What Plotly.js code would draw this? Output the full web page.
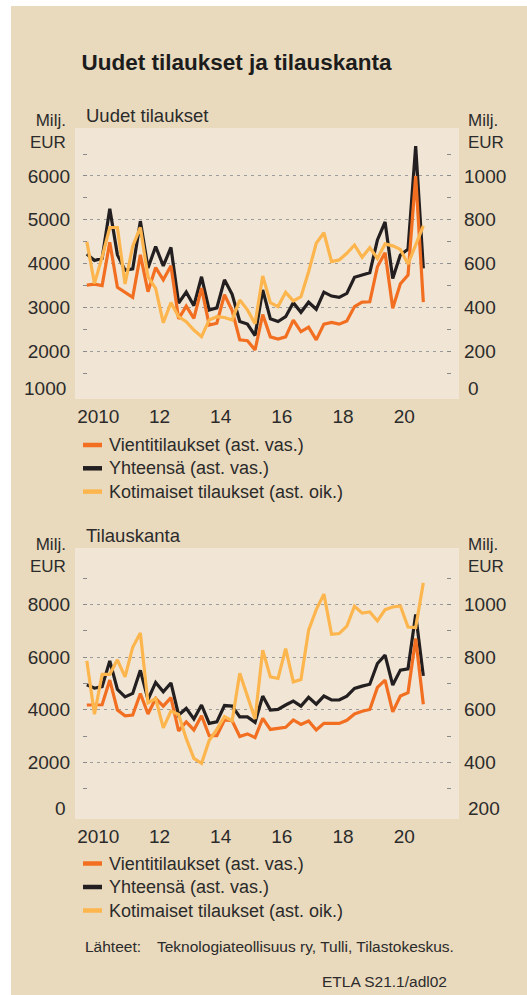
<!DOCTYPE html>
<html>
<head>
<meta charset="utf-8">
<script src="https://cdn.plot.ly/plotly-3.0.1.min.js"></script>
<style>
  html, body { margin: 0; padding: 0; background: #ffffff; }
  #chart { width: 527px; height: 995px; }
</style>
</head>
<body>
<div id="chart"></div>
<script>
// ---------- DATA ----------
const quarters = [
  '2010Q1','2010Q2','2010Q3','2010Q4','2011Q1','2011Q2','2011Q3','2011Q4',
  '2012Q1','2012Q2','2012Q3','2012Q4','2013Q1','2013Q2','2013Q3','2013Q4',
  '2014Q1','2014Q2','2014Q3','2014Q4','2015Q1','2015Q2','2015Q3','2015Q4',
  '2016Q1','2016Q2','2016Q3','2016Q4','2017Q1','2017Q2','2017Q3','2017Q4',
  '2018Q1','2018Q2','2018Q3','2018Q4','2019Q1','2019Q2','2019Q3','2019Q4',
  '2020Q1','2020Q2','2020Q3','2020Q4','2021Q1'
];

// Uudet tilaukset (new orders), Milj. EUR
const vientiNew = [3510,3530,3500,4490,3460,3350,3230,4200,3360,3910,3630,3950,2740,3030,2750,3440,2600,2640,3290,2930,2260,2240,2030,2840,2330,2280,2330,2710,2450,2550,2260,2620,2660,2620,2690,3020,3120,3130,3930,4250,2980,3540,3740,6000,3120];
const yhteensaNew = [4220,4070,4120,5250,4200,3850,3880,4970,3900,4390,3950,4370,3100,3350,3040,3700,2940,2990,3630,3300,2680,2620,2360,3400,2740,2680,2790,3110,2890,3120,2960,3350,3260,3230,3320,3690,3740,3790,4540,4950,3660,4200,4330,6680,3890];
const kotimaisetNew = [700,510,630,765,765,507,680,765,540,487,330,422,358,335,297,267,343,358,354,343,434,389,326,544,422,404,469,430,449,563,693,741,609,617,647,685,629,673,624,690,681,665,598,690,772];

// Tilauskanta (order book), Milj. EUR
const vientiStock = [4180,4190,4190,5130,3990,3770,3800,4620,3840,4430,4140,4460,3190,3540,3230,3770,3010,3010,3610,3580,2980,3080,2940,3670,3250,3290,3330,3610,3440,3570,3230,3480,3480,3480,3600,3840,3940,4010,4850,5130,3920,4520,4650,6710,4210];
const yhteensaStock = [4950,4820,4880,5860,4770,4490,4620,5500,4390,5040,4680,5020,3800,4050,3650,4180,3480,3540,4160,4140,3730,3730,3520,4520,3990,4010,4180,4330,4140,4470,4210,4520,4370,4370,4520,4810,4900,4970,5760,6080,4940,5510,5560,7630,5290];
const kotimaisetStock = [786,583,735,735,790,725,838,892,626,643,531,595,582,490,415,396,483,525,574,558,739,652,565,827,725,719,833,706,715,903,981,1040,887,890,918,994,968,972,938,981,991,995,915,913,1083];

const yearLabels = ['2010','12','14','16','18','20'];
const yearLabelPos = [2010.5, 2012.5, 2014.5, 2016.5, 2018.5, 2020.5];
const yearGridPos = [2011, 2013, 2015, 2017, 2019, 2021];
const yearMinorPos = [2012, 2014, 2016, 2018, 2020];

const seriesNames = ['Vientitilaukset (ast. vas.)', 'Yhteensä (ast. vas.)', 'Kotimaiset tilaukset (ast. oik.)'];

// ---------- STYLE ----------
const W = 527, H = 995;
const fx = p => p / W;
const fy = p => 1 - p / H;
const C_ORANGE = '#F26F21';
const C_BLACK = '#231F20';
const C_LIGHT = '#FDB54E';
const C_TAN = '#E9D9BD';
const C_PLOT = '#F1E6D6';
const C_TEXT = '#2b2b2b';
const C_GRID = '#9c9c9c';
const FONT = 'Liberation Sans, Arial, sans-serif';

const xq = quarters.map(q => parseInt(q.slice(0, 4)) + (parseInt(q.slice(5)) - 0.5) / 4);

const XR = [2010.0, 2022.03];
const XDOM = [fx(83), fx(451)];

function line(x, y, color, xa, ya, name) {
  return { type: 'scatter', mode: 'lines', x: x, y: y, name: name, xaxis: xa, yaxis: ya,
           line: { color: color, width: 3.2 }, showlegend: false, hoverinfo: 'skip' };
}

const traces = [
  line(xq, kotimaisetNew, C_LIGHT, 'x', 'y2', seriesNames[2]),
  line(xq, yhteensaNew, C_BLACK, 'x', 'y', seriesNames[1]),
  line(xq, vientiNew, C_ORANGE, 'x', 'y', seriesNames[0]),
  line(xq, kotimaisetStock, C_LIGHT, 'x2', 'y4', seriesNames[2]),
  line(xq, yhteensaStock, C_BLACK, 'x2', 'y3', seriesNames[1]),
  line(xq, vientiStock, C_ORANGE, 'x2', 'y3', seriesNames[0])
];

function labelAxis(anchor) {
  return { domain: XDOM, range: XR, anchor: anchor, tickmode: 'array', tickvals: yearLabelPos,
    ticktext: yearLabels, showgrid: false, zeroline: false, showline: false, ticks: '',
    tickfont: { family: FONT, size: 19, color: C_TEXT }, ticklabelstandoff: 8, fixedrange: true };
}
function gridXAxis(over, anchor) {
  return { overlaying: over, anchor: anchor, range: XR, tickmode: 'array', tickvals: yearGridPos,
    showticklabels: false, ticks: 'inside', ticklen: 5, tickwidth: 1.5, tickcolor: '#7a7a7a',
    showgrid: true, gridcolor: C_GRID, griddash: '3px,4px', gridwidth: 1, zeroline: false, showline: false,
    minor: { tickvals: yearMinorPos, ticks: 'inside', ticklen: 5, tickwidth: 1.5, tickcolor: '#7a7a7a', showgrid: false } };
}
function leftY(domain, range, vals, minorVals) {
  return { domain: domain, range: range, anchor: 'x', tickmode: 'array', tickvals: vals,
    showgrid: true, gridcolor: C_GRID, griddash: '3px,4px', gridwidth: 1, zeroline: false, showline: false,
    ticks: 'inside', ticklen: 4, tickcolor: '#8a8a8a', tickwidth: 1,
    minor: { tickvals: minorVals, ticks: 'inside', ticklen: 4, tickcolor: '#8a8a8a', tickwidth: 1, showgrid: false },
    tickfont: { family: FONT, size: 19, color: C_TEXT }, ticklabelstandoff: 12, fixedrange: true };
}
function rightY(over, anchor, range, vals, minorVals) {
  return { overlaying: over, side: 'right', anchor: anchor, range: range, tickmode: 'array', tickvals: vals,
    showgrid: false, zeroline: false, showline: false,
    ticks: 'inside', ticklen: 4, tickcolor: '#8a8a8a', tickwidth: 1,
    minor: { tickvals: minorVals, ticks: 'inside', ticklen: 4, tickcolor: '#8a8a8a', tickwidth: 1, showgrid: false },
    tickfont: { family: FONT, size: 19, color: C_TEXT }, ticklabelstandoff: 12, fixedrange: true };
}

const shapes = [
  { type: 'rect', xref: 'paper', yref: 'paper', x0: fx(11), x1: 1, y0: 0, y1: fy(6),
    fillcolor: C_TAN, line: { width: 0 }, layer: 'below' },
  { type: 'rect', xref: 'paper', yref: 'paper', x0: fx(75), x1: fx(459), y0: fy(399), y1: fy(128),
    fillcolor: C_PLOT, line: { width: 0 }, layer: 'below' },
  { type: 'rect', xref: 'paper', yref: 'paper', x0: fx(75), x1: fx(459), y0: fy(819), y1: fy(548),
    fillcolor: C_PLOT, line: { width: 0 }, layer: 'below' }
];

const annotations = [];
function txt(text, x, y, xanchor, size, extra) {
  annotations.push(Object.assign({ text: text, xref: 'paper', yref: 'paper', x: fx(x), y: fy(y),
    xanchor: xanchor, yanchor: 'middle', showarrow: false,
    font: { family: FONT, size: size, color: C_TEXT } }, extra || {}));
}

// subtitles
txt('Uudet tilaukset', 84, 115.5, 'left', 18.5);
txt('Tilauskanta', 84, 535, 'left', 18.5);
// unit labels (two lines each)
[131, 555].forEach(cy => {
  txt('Milj.<br>EUR', 68, cy, 'right', 17, { align: 'right' });
  txt('Milj.<br>EUR', 466, cy, 'left', 17, { align: 'left' });
});
// lowest axis labels (raised above the year ticks)
txt('1000', 68, 388.3, 'right', 19);
txt('0', 466, 388.3, 'left', 19);
txt('0', 68, 808.3, 'right', 19);
txt('200', 466, 808.3, 'left', 19);

// legends
const legendColors = [C_ORANGE, C_BLACK, C_LIGHT];
[[445, 468.3, 491.6], [863.5, 887, 910.5]].forEach(rows => {
  rows.forEach((ry, i) => {
    shapes.push({ type: 'line', xref: 'paper', yref: 'paper', x0: fx(83), x1: fx(102), y0: fy(ry), y1: fy(ry),
      line: { color: legendColors[i], width: 4.5 } });
    txt(seriesNames[i], 107, ry, 'left', 18);
  });
});

// sources
txt('Lähteet:', 83.3, 946.7, 'left', 15.5);
txt('Teknologiateollisuus ry, Tulli, Tilastokeskus.', 155, 946.7, 'left', 15.5);
txt('ETLA S21.1/adl02', 449.3, 981, 'right', 15.5);

const layout = {
  width: W, height: H,
  margin: { l: 0, r: 0, t: 0, b: 0, pad: 0 },
  paper_bgcolor: '#ffffff', plot_bgcolor: 'rgba(0,0,0,0)',
  showlegend: false,
  title: { text: 'Uudet tilaukset ja tilauskanta', xref: 'paper', yref: 'paper',
    x: fx(81.5), xanchor: 'left', y: fy(61.7), yanchor: 'middle',
    font: { family: 'Liberation Sans, Arial, sans-serif', size: 22.5, weight: 'bold', color: '#1c1c1c' } },
  xaxis: labelAxis('y'),
  xaxis3: gridXAxis('x', 'y'),
  xaxis2: labelAxis('y3'),
  xaxis4: gridXAxis('x2', 'y3'),
  yaxis: leftY([fy(395.1), fy(136)], [1000, 6912.6], [2000, 3000, 4000, 5000, 6000], [1500, 2500, 3500, 4500, 5500, 6500]),
  yaxis2: rightY('y', 'x', [0, 1182.5], [200, 400, 600, 800, 1000], [100, 300, 500, 700, 900, 1100]),
  yaxis3: Object.assign(leftY([fy(814.8), fy(556)], [0, 9853], [2000, 4000, 6000, 8000], [1000, 3000, 5000, 7000, 9000]), { anchor: 'x2' }),
  yaxis4: rightY('y3', 'x2', [200, 1185.3], [400, 600, 800, 1000], [300, 500, 700, 900, 1100]),
  shapes: shapes,
  annotations: annotations
};

Plotly.newPlot('chart', traces, layout, { staticPlot: true, displayModeBar: false });
</script>
</body>
</html>
